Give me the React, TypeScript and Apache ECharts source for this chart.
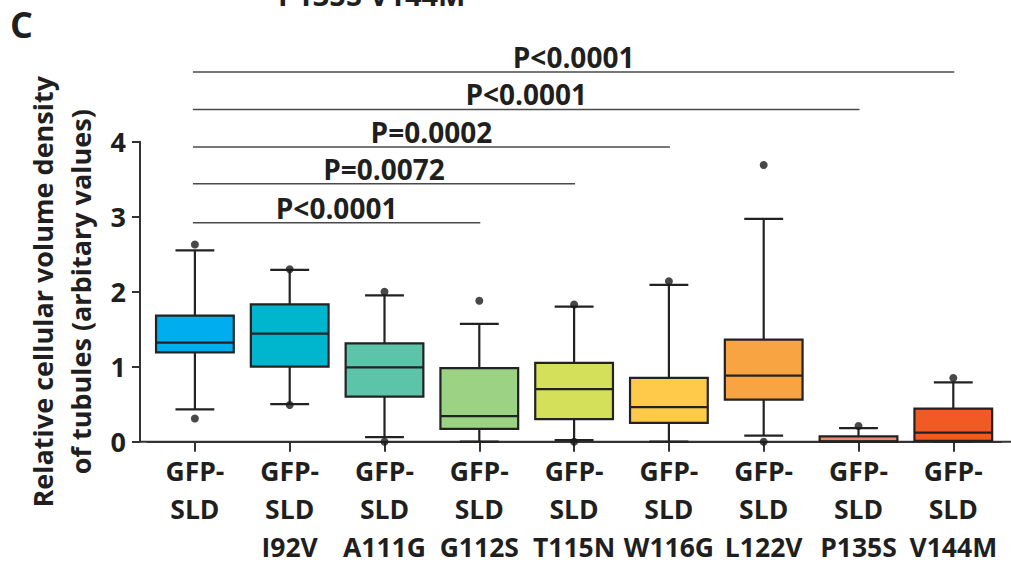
import React, { useEffect, useRef } from "react";
import * as echarts from "echarts";

const categories = [
  "GFP-\nSLD",
  "GFP-\nSLD\nI92V",
  "GFP-\nSLD\nA111G",
  "GFP-\nSLD\nG112S",
  "GFP-\nSLD\nT115N",
  "GFP-\nSLD\nW116G",
  "GFP-\nSLD\nL122V",
  "GFP-\nSLD\nP135S",
  "GFP-\nSLD\nV144M",
];
const whiskerLow = [0.43, 0.5, 0.06, 0.0, 0.02, 0.0, 0.08, 0.0, 0.0];
const q1 = [1.19, 1.0, 0.6, 0.17, 0.3, 0.25, 0.56, 0.0, 0.01];
const median = [1.32, 1.44, 0.99, 0.34, 0.7, 0.46, 0.88, 0.005, 0.12];
const q3 = [1.68, 1.83, 1.31, 0.98, 1.05, 0.85, 1.36, 0.07, 0.44];
const whiskerHigh = [2.55, 2.29, 1.95, 1.57, 1.8, 2.09, 2.97, 0.18, 0.79];
const boxColors = [
  "#00AEEF",
  "#00B6CE",
  "#5BC4A9",
  "#9BD283",
  "#D4DF5A",
  "#FFC94A",
  "#F9A442",
  "#EE8A6C",
  "#F15A22",
];
const outlierCategory = [0, 0, 1, 1, 2, 2, 3, 4, 4, 5, 6, 6, 7, 8];
const outlierValue = [2.63, 0.31, 2.3, 0.49, 2.0, 0.0, 1.88, 1.83, 0.0, 2.14, 3.69, 0.0, 0.21, 0.85];
const yMin = 0;
const yMax = 4;
const yInterval = 1;
const sigFrom = [0, 0, 0, 0, 0];
const sigTo = [3, 4, 5, 7, 8];
const sigLevel = [2.92, 3.44, 3.93, 4.43, 4.93];
const sigLabel = ["P<0.0001", "P=0.0072", "P=0.0002", "P<0.0001", "P<0.0001"];

const FONT = "'Open Sans', 'Noto Sans', sans-serif";
const INK = "#1f1f1f";

export default function App() {
  const ref = useRef<HTMLDivElement>(null);
  useEffect(() => {
    if (!ref.current) return;
    const chart = echarts.init(ref.current, undefined, { renderer: "svg" });
    const boxData = categories.map((_, i) => [i, whiskerLow[i], q1[i], median[i], q3[i], whiskerHigh[i]]);
    const outData = outlierCategory.map((c, i) => [c, outlierValue[i]]);
    const sigData = sigTo.map((t, i) => [sigFrom[i], t, sigLevel[i]]);
    const option: any = {
      animation: false,
      backgroundColor: "#ffffff",
      grid: { left: 147.5, right: 10.3, top: 141.7, bottom: 125.3, containLabel: false },
      xAxis: {
        type: "category",
        data: categories,
        boundaryGap: true,
        axisLine: { show: true, lineStyle: { color: "#333", width: 2 } },
        axisTick: { show: true, alignWithLabel: true, length: 10, lineStyle: { color: "#333", width: 2 } },
        axisLabel: {
          interval: 0,
          margin: 10,
          color: INK,
          fontFamily: FONT,
          fontWeight: "bold",
          fontSize: 26.5,
          lineHeight: 38,
          align: "center",
        },
        splitLine: { show: false },
      },
      yAxis: {
        type: "value",
        min: yMin,
        max: yMax,
        interval: yInterval,
        offset: 7.5,
        name: "Relative cellular volume density\nof tubules (arbitary values)",
        nameLocation: "middle",
        nameRotate: 90,
        nameGap: 34,
        nameTextStyle: {
          color: INK,
          fontFamily: FONT,
          fontWeight: "bold",
          fontSize: 27,
          lineHeight: 38,
        },
        axisLine: { show: true, lineStyle: { color: "#333", width: 2 } },
        axisTick: { show: true, length: 8, lineStyle: { color: "#333", width: 2 } },
        axisLabel: { margin: 14, color: INK, fontFamily: FONT, fontWeight: "bold", fontSize: 27 },
        splitLine: { show: false },
      },
      graphic: [
        {
          type: "line",
          shape: { x1: 140, y1: 441.7, x2: 1011, y2: 441.7 },
          style: { stroke: "#333", lineWidth: 2 },
          z: 0,
        },
        {
          type: "text",
          left: 10,
          top: 6,
          style: { text: "C", fill: INK, font: `bold 36px ${FONT}` },
        },
        {
          type: "text",
          x: 278,
          y: 9,
          style: {
            text: "P135S V144M",
            fill: INK,
            font: `bold 29px ${FONT}`,
            verticalAlign: "bottom",
            align: "left",
          },
        },
      ],
      series: [
        {
          type: "custom",
          name: "box",
          data: boxData,
          encode: { x: 0, y: [1, 2, 3, 4, 5] },
          z: 3,
          renderItem: (params: any, api: any) => {
            const idx = api.value(0);
            const band = api.size([1, 0])[0];
            const bw = band * 0.82;
            const cw = bw * 0.5;
            const pLow = api.coord([idx, api.value(1)]);
            const pQ1 = api.coord([idx, api.value(2)]);
            const pMed = api.coord([idx, api.value(3)]);
            const pQ3 = api.coord([idx, api.value(4)]);
            const pHigh = api.coord([idx, api.value(5)]);
            const cx = pMed[0];
            const st = { stroke: "#222", lineWidth: 2.2 };
            return {
              type: "group",
              children: [
                { type: "line", shape: { x1: cx, y1: pHigh[1], x2: cx, y2: pQ3[1] }, style: st },
                { type: "line", shape: { x1: cx, y1: pQ1[1], x2: cx, y2: pLow[1] }, style: st },
                { type: "line", shape: { x1: cx - cw / 2, y1: pHigh[1], x2: cx + cw / 2, y2: pHigh[1] }, style: st },
                { type: "line", shape: { x1: cx - cw / 2, y1: pLow[1], x2: cx + cw / 2, y2: pLow[1] }, style: st },
                {
                  type: "rect",
                  shape: { x: cx - bw / 2, y: pQ3[1], width: bw, height: pQ1[1] - pQ3[1] },
                  style: { fill: boxColors[params.dataIndex], stroke: "#222", lineWidth: 2.2 },
                },
                { type: "line", shape: { x1: cx - bw / 2, y1: pMed[1], x2: cx + bw / 2, y2: pMed[1] }, style: st },
              ],
            };
          },
        },
        {
          type: "scatter",
          name: "outliers",
          data: outData,
          symbol: "circle",
          symbolSize: 8,
          itemStyle: { color: "#1a1a1a" },
          z: 5,
        },
        {
          type: "custom",
          name: "significance",
          data: sigData,
          encode: { x: [0, 1], y: 2 },
          z: 4,
          renderItem: (params: any, api: any) => {
            const a = api.coord([api.value(0), api.value(2)]);
            const b = api.coord([api.value(1), api.value(2)]);
            const x1 = a[0] - 2;
            const x2 = b[0] + 1;
            return {
              type: "group",
              children: [
                { type: "line", shape: { x1, y1: a[1], x2, y2: a[1] }, style: { stroke: "#4a4a4a", lineWidth: 1.5 } },
                {
                  type: "text",
                  x: (x1 + x2) / 2,
                  y: a[1] - 1,
                  style: {
                    text: sigLabel[params.dataIndex],
                    fill: INK,
                    font: `bold 28px ${FONT}`,
                    align: "center",
                    verticalAlign: "bottom",
                  },
                },
              ],
            };
          },
        },
      ],
    };
    chart.setOption(option);
    return () => chart.dispose();
  }, []);
  return <div ref={ref} style={{ width: 1011, height: 567, position: "absolute", left: 0, top: 0 }} />;
}
